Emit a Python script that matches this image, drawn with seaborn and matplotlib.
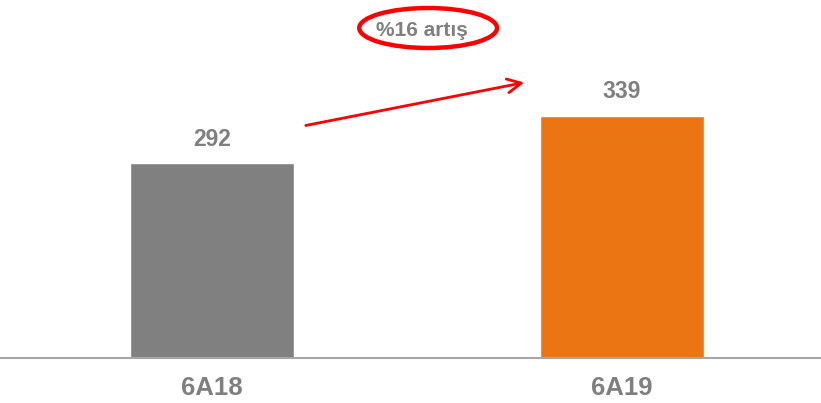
import pandas as pd
import matplotlib
matplotlib.use("Agg")
import matplotlib.pyplot as plt
import seaborn as sns
from matplotlib.patches import Ellipse

# === Data ===
periods = ["6A18", "6A19"]
values = [292, 339]
bar_colors = ["#808080", "#EC7513"]
growth_label = "%16 artış"

df = pd.DataFrame({"period": periods, "value": values})

# === Style ===
sns.set_style("white")
plt.rcParams["font.family"] = ["Liberation Sans", "DejaVu Sans"]
text_gray = "#7F7F7F"

fig = plt.figure(figsize=(8.21, 4.03), dpi=100)
ax = fig.add_axes([0, 45 / 403, 1, 358 / 403])

sns.barplot(data=df, x="period", y="value", hue="period",
            palette=bar_colors, width=0.4, legend=False, ax=ax,
            saturation=1)

# === Value labels ===
for container in ax.containers:
    ax.bar_label(container, fmt="%d", padding=9, fontsize=16.5,
                 fontweight="bold", color=text_gray)

# === Axes ===
ax.set_xlim(-0.517, 1.485)
ax.set_ylim(97, 455)
ax.set_xlabel("")
ax.set_ylabel("")
ax.set_yticks([])
ax.tick_params(axis="x", length=0, pad=13, labelsize=18.5, labelcolor=text_gray)
for lbl in ax.get_xticklabels():
    lbl.set_fontweight("bold")
for side in ["top", "right", "left"]:
    ax.spines[side].set_visible(False)
ax.spines["bottom"].set_color("#A6A6A6")
ax.spines["bottom"].set_linewidth(1.5)

# === Growth annotation ===
ax.annotate("", xy=(0.768, 373), xytext=(0.222, 329),
            arrowprops=dict(arrowstyle="->,head_length=1.0,head_width=0.5",
                            color="#FF0000", lw=2))
ax.text(0.513, 425, growth_label, ha="center", va="center", fontsize=15,
        fontweight="bold", color=text_gray)
ax.add_patch(Ellipse((0.527, 427), width=0.336, height=40, fill=False,
                     edgecolor="#FF0000", lw=3.2, clip_on=False))

fig.savefig("out.png", dpi=100)
